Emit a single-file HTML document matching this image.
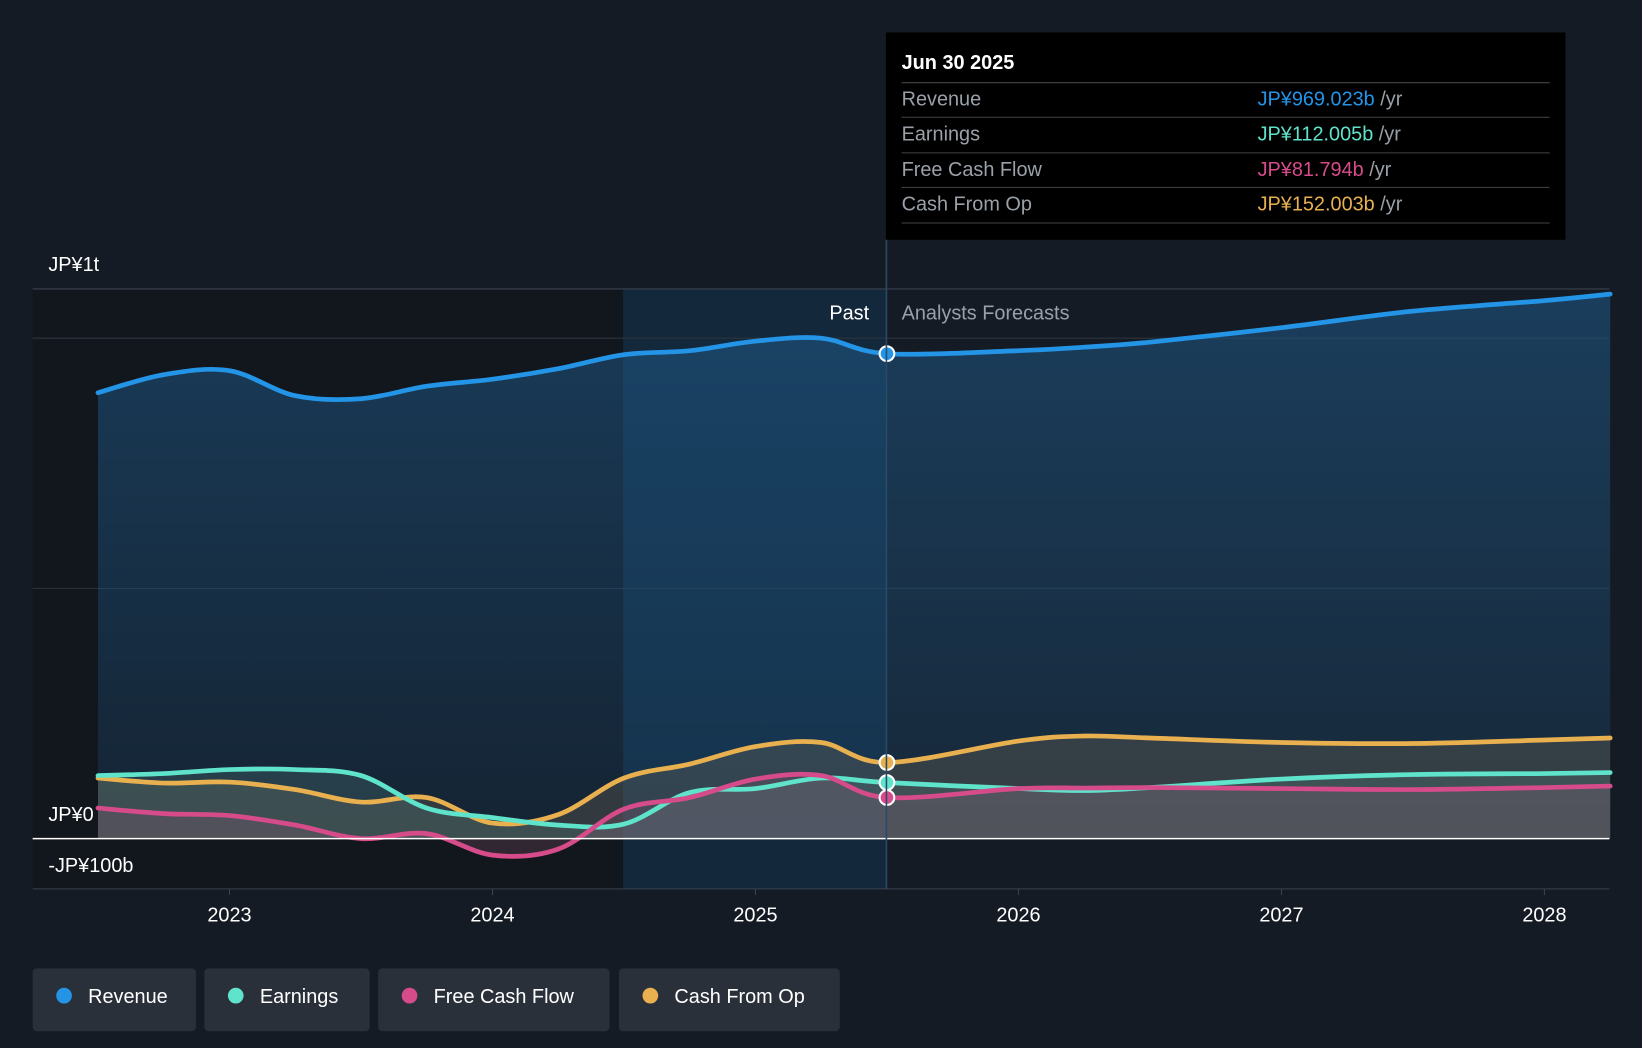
<!DOCTYPE html>
<html><head><meta charset="utf-8"><style>
html,body{margin:0;padding:0;background:#151b24;}
svg{display:block;font-family:"Liberation Sans",sans-serif;}
</style></head><body>
<svg id="chart" width="1642" height="1048" viewBox="0 0 1568 1001" xmlns="http://www.w3.org/2000/svg">
<defs>
<linearGradient id="revG" x1="0" y1="0" x2="0" y2="1"><stop offset="0" stop-color="#1f5a8a" stop-opacity="0.55"/><stop offset="1" stop-color="#1f5a8a" stop-opacity="0.2"/></linearGradient>
</defs>
<rect width="1568" height="1001" fill="#151b24"/>
<rect x="31" y="276" width="564" height="573" fill="#12161d"/>
<rect x="595" y="276" width="251" height="573" fill="#13283b"/>
<g id="grid"></g>
<g id="areas"></g>
<g id="lines"></g>
<g id="labels"></g>
<g>
<rect x="846" y="31" width="649" height="198" fill="#000"/>
<text x="861" y="66" fill="#fff" font-size="19" font-weight="bold">Jun 30 2025</text>
<line x1="861" y1="79" x2="1480" y2="79" stroke="#444"/>
<text x="861" y="101" fill="#9aa0a8" font-size="19">Revenue</text>
<text x="1201" y="101" font-size="19"><tspan fill="#2394e6">JP¥969.023b</tspan><tspan fill="#9aa0a8"> /yr</tspan></text>
<line x1="861" y1="112" x2="1480" y2="112" stroke="#444"/>
<text x="861" y="134" fill="#9aa0a8" font-size="19">Earnings</text>
<text x="1201" y="134" font-size="19"><tspan fill="#5fe3cb">JP¥112.005b</tspan><tspan fill="#9aa0a8"> /yr</tspan></text>
<line x1="861" y1="146" x2="1480" y2="146" stroke="#444"/>
<text x="861" y="168" fill="#9aa0a8" font-size="19">Free Cash Flow</text>
<text x="1201" y="168" font-size="19"><tspan fill="#d64b8a">JP¥81.794b</tspan><tspan fill="#9aa0a8"> /yr</tspan></text>
<line x1="861" y1="179" x2="1480" y2="179" stroke="#444"/>
<text x="861" y="201" fill="#9aa0a8" font-size="19">Cash From Op</text>
<text x="1201" y="201" font-size="19"><tspan fill="#e8b04f">JP¥152.003b</tspan><tspan fill="#9aa0a8"> /yr</tspan></text>
<line x1="861" y1="213" x2="1480" y2="213" stroke="#444"/>
</g>
<line x1="846.5" y1="229" x2="846.5" y2="849" stroke="#2a4a66" stroke-width="1.5"/>
<text x="830" y="305" fill="#fff" font-size="19" text-anchor="end">Past</text>
<text x="861" y="305" fill="#9aa0a8" font-size="19">Analysts Forecasts</text>
<g id="legend"></g>
</svg>
<script>
const years=[2022.5,2022.75,2023,2023.25,2023.5,2023.75,2024,2024.25,2024.5,2024.75,2025,2025.25,2025.5,2026,2026.25,2026.5,2027,2027.5,2028,2028.25];
const revenue=[891,927,935,885,879,904,918,939,967,975,994,1000,969,975,982,992,1021,1054,1075,1088];
const earnings=[126,130,138,138,126,61,42,27,29,92,100,121,112,100,96,102,119,128,130,132];
const fcf=[61,50,46,27,0,10,-33,-21,59,82,119,126,82,100,101,102,100,98,102,105];
const cfo=[121,111,113,98,73,82,31,48,121,149,184,192,152,195,205,201,192,190,197,201];
const yTicks=[{v:1000,l:"JP¥1t"},{v:0,l:"JP¥0"},{v:-100,l:"-JP¥100b"}];
const xTicks=[2023,2024,2025,2026,2027,2028];
const X=t=>219+(t-2023)*251.2;
const Y=v=>801-0.478*v;
const NS="http://www.w3.org/2000/svg";
function mk(tag,attrs,parent){const e=document.createElementNS(NS,tag);for(const k in attrs)e.setAttribute(k,attrs[k]);parent.appendChild(e);return e;}
function path(vals){const p=years.map((t,i)=>[X(t),Y(vals[i])]);let d="M"+p[0][0]+","+p[0][1];
for(let i=0;i<p.length-1;i++){const p0=p[Math.max(0,i-1)],p1=p[i],p2=p[i+1],p3=p[Math.min(p.length-1,i+2)];
d+=" C"+(p1[0]+(p2[0]-p0[0])/6)+","+(p1[1]+(p2[1]-p0[1])/6)+" "+(p2[0]-(p3[0]-p1[0])/6)+","+(p2[1]-(p3[1]-p1[1])/6)+" "+p2[0]+","+p2[1];}return d;}
const grid=document.getElementById('grid');
[323,562].forEach(y=>{const l=mk('line',{x1:31,x2:1537,y1:y,y2:y,stroke:'#2c3440'},grid);});
mk('line',{x1:31,x2:1537,y1:276,y2:276,stroke:'#3a424e'},grid);
mk('line',{x1:31,x2:1537,y1:849,y2:849,stroke:'#3a424e'},grid);
const areas=document.getElementById('areas'),lines=document.getElementById('lines');
const series=[[revenue,'#2394e6','url(#revG)','revenue'],[cfo,'#e8b04f','rgba(120,110,90,0.3)','cash-from-op'],[earnings,'#5fe3cb','rgba(90,140,130,0.25)','earnings'],[fcf,'#d64b8a','rgba(140,90,120,0.25)','free-cash-flow']];
series.forEach(([vals,col,fill,name])=>{const d=path(vals);
const a=mk('path',{d:d+" L"+X(years[years.length-1])+","+Y(0)+" L"+X(years[0])+","+Y(0)+" Z",fill:fill},areas);


const l=mk('path',{d:d,fill:'none',stroke:col,'stroke-width':4.5,'stroke-linecap':'round'},lines);


const i=years.indexOf(2025.5);
const c=mk('circle',{cx:X(2025.5),cy:Y(vals[i]),r:7,fill:col,stroke:'#fff','stroke-width':2},lines);

});
mk('line',{x1:31,x2:1537,y1:801,y2:801,stroke:'#fff','stroke-width':1.5},lines);
const lab=document.getElementById('labels');
yTicks.forEach(t=>{const e=mk('text',{x:46,y:Y(t.v)-17+(t.v===-100?8:0)+(t.v===0?0:0),fill:'#fff','font-size':19},lab);
if(t.v===1000)e.setAttribute('y',259);if(t.v===0)e.setAttribute('y',784);if(t.v===-100)e.setAttribute('y',833);
e.textContent=t.l;

});
xTicks.forEach(t=>{mk('line',{x1:X(t),x2:X(t),y1:849,y2:855,stroke:'#3a424e'},lab);
const e=mk('text',{x:X(t),y:880,fill:'#fff','font-size':19,'text-anchor':'middle'},lab);e.textContent=t;

});
const leg=document.getElementById('legend');
[["Revenue",'#2394e6',31,156],["Earnings",'#5fe3cb',195,158],["Free Cash Flow",'#d64b8a',361,221],["Cash From Op",'#e8b04f',591,211]].forEach(([n,c,x,w])=>{
const g=mk('g',{},leg);


mk('rect',{x:x,y:925,width:w,height:60,rx:4,fill:'#2a303a'},g);
mk('circle',{cx:x+30,cy:951,r:7.5,fill:c},g);
const t=mk('text',{x:x+53,y:958,fill:'#fff','font-size':19},g);t.textContent=n;});
</script>
</body></html>
